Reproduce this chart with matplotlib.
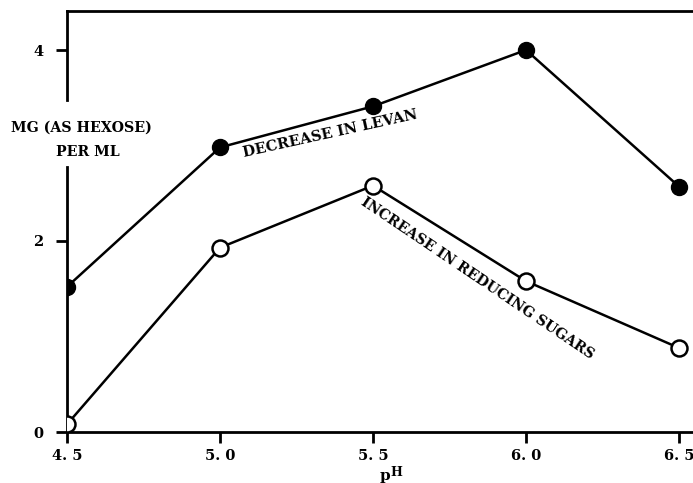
import matplotlib
matplotlib.use("Agg")
import matplotlib.pyplot as plt

ph = [4.5, 5.0, 5.5, 6.0, 6.5]
levan_decrease = [1.52, 2.98, 3.41, 4.0, 2.57]
sugar_increase = [0.08, 1.93, 2.58, 1.58, 0.88]
xtick_labels = ["4. 5", "5. 0", "5. 5", "6. 0", "6. 5"]
yticks = [0, 2, 4]

plt.rcParams['font.family'] = ['DejaVu Serif']
plt.rcParams['font.weight'] = 'bold'

fig = plt.figure(figsize=(6.93, 4.83), dpi=100)
ax = fig.add_axes([67/693, 51/483, 626/693, 421/483])
ax.set_xlim(4.5, 4.5 + 626/306)
ax.set_ylim(0, 421/95.5)

ax.plot(ph, levan_decrease, color='black', lw=1.8, marker='o', ms=11.5,
        markerfacecolor='black', markeredgecolor='black', zorder=3)
ax.plot(ph, sugar_increase, color='black', lw=1.8, marker='o', ms=11.5,
        markerfacecolor='white', markeredgecolor='black', markeredgewidth=1.8, zorder=3)

for s in ['top', 'bottom', 'left']:
    ax.spines[s].set_linewidth(2)
ax.spines['right'].set_visible(False)
ax.spines['left'].set_bounds(0, 2.77)
ax.plot([4.5, 4.5], [3.48, 421/95.5], color='black', lw=2, clip_on=False, zorder=4)

ax.set_xticks(ph)
ax.set_xticklabels(xtick_labels, fontsize=10.5, fontweight='bold')
ax.set_yticks(yticks)
ax.set_yticklabels([str(v) for v in yticks], fontsize=10.5, fontweight='bold')
ax.tick_params(axis='both', direction='out', length=8, width=2, pad=4)
ax.tick_params(axis='y', pad=9)

ax.text(4.5 + 14/306, 3.19, "MG (AS HEXOSE)", ha='center', va='center',
        fontsize=10.2, fontweight='bold', clip_on=False)
ax.text(4.5 + 21/306, 2.93, "PER ML", ha='center', va='center',
        fontsize=10.2, fontweight='bold', clip_on=False)

ax.text(5.36, 3.12, "DECREASE IN LEVAN", rotation=12.5, ha='center', va='center',
        fontsize=10.5, fontweight='bold', rotation_mode='anchor')
ax.text(5.84, 1.61, "INCREASE IN REDUCING SUGARS", rotation=-34, ha='center', va='center',
        fontsize=10.2, fontweight='bold', rotation_mode='anchor')

ax.annotate("p", xy=(323/626, -0.088), xycoords='axes fraction', ha='right', va='top',
            fontsize=11, fontweight='bold', annotation_clip=False)
ax.annotate("H", xy=(323/626, -0.080), xycoords='axes fraction', ha='left', va='top',
            fontsize=9, fontweight='bold', annotation_clip=False)

fig.savefig("out.png", dpi=100)
